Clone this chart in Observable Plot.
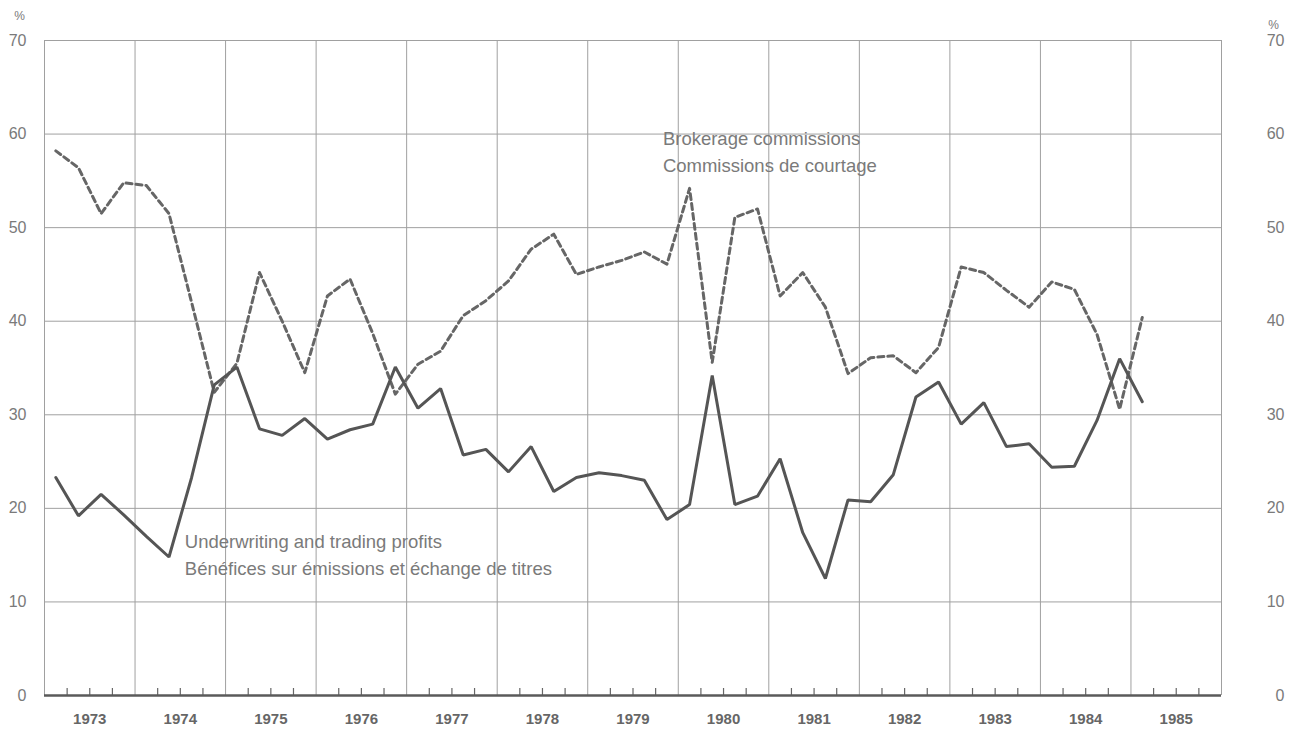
<!DOCTYPE html>
<html>
<head>
<meta charset="utf-8">
<script src="https://cdn.jsdelivr.net/npm/d3@7"></script>
<script src="https://cdn.jsdelivr.net/npm/@observablehq/plot@0.6"></script>
<style>
  html, body { margin: 0; padding: 0; background: #ffffff; }
  #chart { width: 1298px; height: 730px; }
</style>
</head>
<body>
<div id="chart"></div>
<script>
// Quarterly data, 1973 Q1 to 1985 Q1
const startYear = 1973;
const underwriting = [
  23.3, 19.2, 21.5, 19.3,
  17.0, 14.8, 23.3, 33.2,
  35.1, 28.5, 27.8, 29.6,
  27.4, 28.4, 29.0, 35.1,
  30.7, 32.8, 25.7, 26.3,
  23.9, 26.6, 21.8, 23.3,
  23.8, 23.5, 23.0, 18.8,
  20.4, 34.2, 20.4, 21.3,
  25.3, 17.4, 12.5, 20.9,
  20.7, 23.6, 31.9, 33.5,
  29.0, 31.3, 26.6, 26.9,
  24.4, 24.5, 29.4, 36.0,
  31.4
];
const brokerage = [
  58.2, 56.4, 51.5, 54.8,
  54.5, 51.5, 42.0, 32.4,
  35.5, 45.2, 40.0, 34.5,
  42.7, 44.5, 38.7, 32.2,
  35.4, 36.8, 40.6, 42.2,
  44.3, 47.7, 49.3, 45.0,
  45.8, 46.5, 47.4, 46.1,
  54.2, 35.6, 51.1, 52.0,
  42.7, 45.2, 41.5, 34.4,
  36.1, 36.3, 34.5, 37.2,
  45.8, 45.2, 43.3, 41.5,
  44.2, 43.4, 38.6, 30.6,
  40.4
];
const years = [1973, 1974, 1975, 1976, 1977, 1978, 1979, 1980, 1981, 1982, 1983, 1984, 1985];
const yTicks = [0, 10, 20, 30, 40, 50, 60, 70];
const labelUnderwriting = "Underwriting and trading profits\nBénéfices sur émissions et échange de titres";
const labelBrokerage = "Brokerage commissions\nCommissions de courtage";

// table: quarter midpoints on a decimal-year axis
const data = underwriting.map((u, i) => ({
  t: startYear + i / 4 + 0.125,
  underwriting: u,
  brokerage: brokerage[i]
}));
const yearBounds = years.concat([years[years.length - 1] + 1]);
const quarterTicks = [];
years.forEach(y => { [0.25, 0.5, 0.75].forEach(q => quarterTicks.push(y + q)); });
const yearCenters = years.map(y => y + 0.5);

const font = "'Liberation Sans', Arial, Helvetica, sans-serif";
const grid = "#a0a0a0";
const textCol = "#7a7a7a";

const chart = Plot.plot({
  width: 1298,
  height: 730,
  marginLeft: 44,
  marginRight: 77,
  marginTop: 40,
  marginBottom: 35,
  style: { fontFamily: font, background: "#ffffff", overflow: "visible" },
  x: { domain: [1973, 1986], axis: null },
  y: { domain: [0, 70], axis: null },
  marks: [
    Plot.ruleX(yearBounds, { stroke: grid, strokeWidth: 1 }),
    Plot.ruleY(yTicks.filter(d => d > 0), { stroke: grid, strokeWidth: 1 }),
    Plot.ruleX(quarterTicks, { y1: 0, y2: 0.75, stroke: "#666", strokeWidth: 1.2 }),
    Plot.ruleY([0], { stroke: "#5a5a5a", strokeWidth: 2.5 }),
    Plot.line(data, { x: "t", y: "brokerage", stroke: "#666", strokeWidth: 3, strokeDasharray: "6,4" }),
    Plot.line(data, { x: "t", y: "underwriting", stroke: "#555", strokeWidth: 3, strokeLinejoin: "miter" }),
    Plot.axisY({ anchor: "left", ticks: yTicks, tickSize: 0, tickPadding: 18, fontSize: 16, fill: textCol, label: null }),
    Plot.axisY({ anchor: "right", ticks: yTicks, tickSize: 0, tickPadding: 63, textAnchor: "end", fontSize: 16, fill: textCol, label: null }),
    Plot.axisX({ anchor: "bottom", ticks: yearCenters, tickFormat: d => String(Math.floor(d)), tickSize: 0, tickPadding: 18, fontSize: 15, fontWeight: "bold", fill: "#666", label: null, style: "letter-spacing: 0.6px" }),
    Plot.text(["%"], { x: 1973, y: 70, dx: -25, dy: -24, fontSize: 12, fill: textCol }),
    Plot.text(["%"], { x: 1986, y: 70, dx: 52, dy: -15, fontSize: 12, fill: textCol }),
    Plot.text([labelBrokerage], { x: 1979.83, y: 60.9, text: d => d, textAnchor: "start", lineAnchor: "top", lineHeight: 1.46, fontSize: 18.5, fill: textCol }),
    Plot.text([labelUnderwriting], { x: 1974.55, y: 17.8, text: d => d, textAnchor: "start", lineAnchor: "top", lineHeight: 1.46, fontSize: 18.5, fill: textCol })
  ]
});
document.getElementById("chart").appendChild(chart);
</script>
</body>
</html>
